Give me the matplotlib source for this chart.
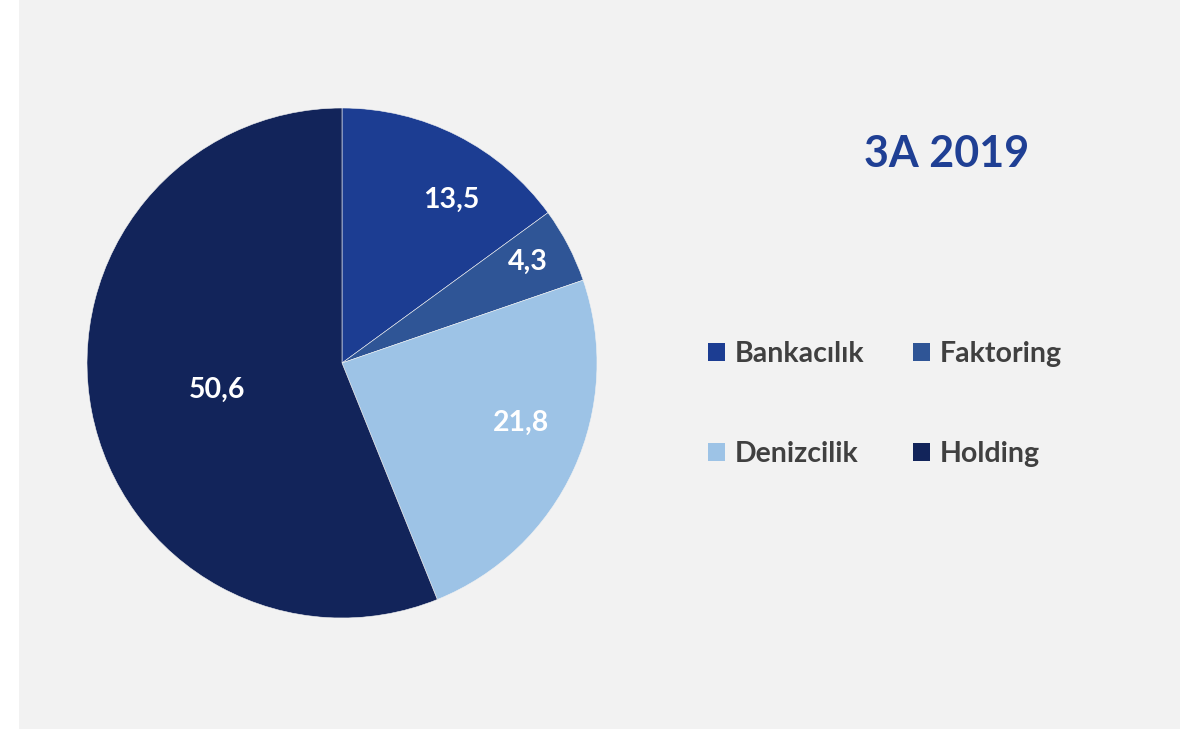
import matplotlib
matplotlib.use("Agg")
import matplotlib.pyplot as plt
from matplotlib.patches import Rectangle, Patch
import numpy as np

categories = ["Bankacılık", "Faktoring", "Denizcilik", "Holding"]
values = [13.5, 4.3, 21.8, 50.6]
value_labels = ["13,5", "4,3", "21,8", "50,6"]
colors = ["#1C3D92", "#2F5596", "#9DC3E6", "#12245A"]
title = "3A 2019"

# label placement (layout only): radial fraction and angular nudge in degrees
label_dist = [0.77, 0.83, 0.74, 0.50]
label_nudge = [-7, 1, 6, 1]

plt.rcParams['font.family'] = ['Lato', 'DejaVu Sans']

W, H = 1203, 730
fig = plt.figure(figsize=(W / 100, H / 100), dpi=100)
fig.patch.set_facecolor("white")
fig.patches.append(Rectangle((19 / W, 1 / H), (1180 - 19) / W, 1 - 1 / H,
                             transform=fig.transFigure, facecolor="#F2F2F2",
                             edgecolor="none", zorder=-5))

cx, cy, r = 342, 363, 255
ax = fig.add_axes([(cx - r) / W, (H - cy - r) / H, 2 * r / W, 2 * r / H])
ax.set_zorder(2)
ax.set_facecolor("none")
wedges, _ = ax.pie(values, colors=colors, startangle=90, counterclock=False,
                   radius=1, wedgeprops=dict(edgecolor="#F2F2F2", linewidth=0.4))
ax.set_xlim(-1, 1)
ax.set_ylim(-1, 1)
ax.set_aspect("equal")
ax.axis("off")

for w, lab, d, n in zip(wedges, value_labels, label_dist, label_nudge):
    ang = np.deg2rad((w.theta1 + w.theta2) / 2 + n)
    ax.text(d * np.cos(ang), d * np.sin(ang), lab, ha="center", va="center",
            color="white", fontsize=20.5, fontweight="bold")

fig.text(947 / W, 1 - 154 / H, title, ha="center", va="center",
         color="#1F3F94", fontsize=31, fontweight="bold")

# legend laid out row-wise (matplotlib fills columns first)
order = [0, 2, 1, 3]
handles = [Patch(facecolor=colors[i], edgecolor="none") for i in order]
labels = [categories[i] for i in order]
leg = fig.legend(handles, labels, ncol=2, loc="center left",
                 bbox_to_anchor=(708 / W, 1 - 404 / H), frameon=False,
                 fontsize=20.5, handlelength=0.6, handleheight=0.6,
                 handletextpad=0.35, columnspacing=1.7, labelspacing=2.6,
                 borderpad=0, borderaxespad=0)
leg.set_zorder(3)
for t in leg.get_texts():
    t.set_color("#404040")
    t.set_fontweight("bold")

fig.savefig("out.png", dpi=100, facecolor=fig.get_facecolor())
